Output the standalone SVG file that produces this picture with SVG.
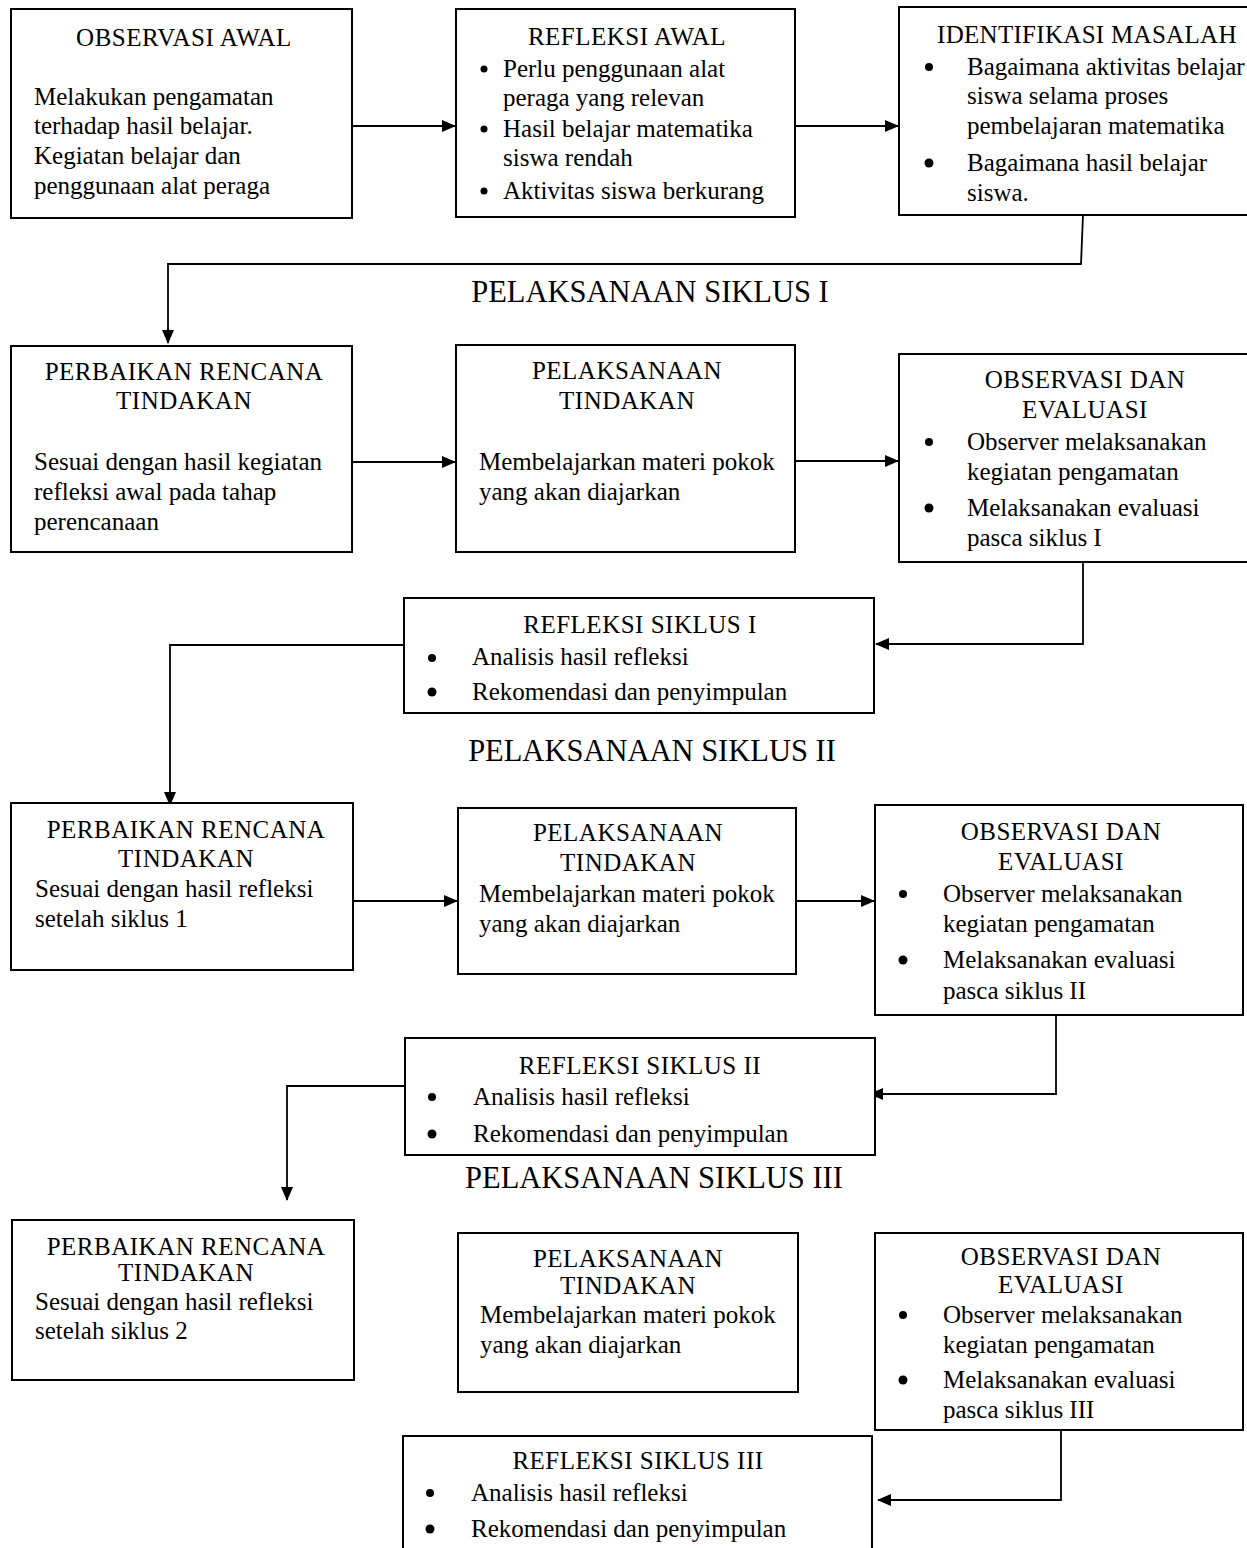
<svg xmlns="http://www.w3.org/2000/svg" width="1247" height="1548" viewBox="0 0 1247 1548">
<style>
.box{fill:#fff;stroke:#000;stroke-width:2}
text{font-family:"Liberation Serif","Times New Roman",serif;font-size:25px;fill:#000}
.c{text-anchor:middle;letter-spacing:0.5px}
.h{font-size:30.5px;letter-spacing:0}
.ln{fill:none;stroke:#000;stroke-width:1.8}
.b{fill:#000}
</style>
<defs>
<marker id="ah" markerUnits="userSpaceOnUse" markerWidth="14" markerHeight="12" refX="13" refY="6" orient="auto">
<path d="M0,0 L14,6 L0,12 Z" fill="#000"/>
</marker>
</defs>
<rect width="1247" height="1548" fill="#fff"/>

<g id="connectors">
<path class="ln" d="M352,126 H455" marker-end="url(#ah)"/>
<path class="ln" d="M795,126 H898" marker-end="url(#ah)"/>
<path class="ln" d="M1083,215 L1081,264 H168 V343" marker-end="url(#ah)"/>
<path class="ln" d="M352,462 H455" marker-end="url(#ah)"/>
<path class="ln" d="M795,461 H898" marker-end="url(#ah)"/>
<path class="ln" d="M1083,562 V644 H876" marker-end="url(#ah)"/>
<path class="ln" d="M404,645 H170 V805" marker-end="url(#ah)"/>
<path class="ln" d="M353,901 H457" marker-end="url(#ah)"/>
<path class="ln" d="M796,901 H874" marker-end="url(#ah)"/>
<path class="ln" d="M1056,1015 V1094 H870" marker-end="url(#ah)"/>
<path class="ln" d="M405,1086 H287 V1200" marker-end="url(#ah)"/>
<path class="ln" d="M1061,1430 V1500 H878" marker-end="url(#ah)"/>
</g>

<g id="observasi-awal">
<rect class="box" x="11" y="9" width="341" height="209"/>
<text class="c" x="184" y="46">OBSERVASI AWAL</text>
<text x="34" y="105">Melakukan pengamatan</text>
<text x="34" y="134">terhadap hasil belajar.</text>
<text x="34" y="164">Kegiatan belajar dan</text>
<text x="34" y="194">penggunaan alat peraga</text>
</g>

<g id="refleksi-awal">
<rect class="box" x="456" y="9" width="339" height="208"/>
<text class="c" x="627" y="45">REFLEKSI AWAL</text>
<circle class="b" cx="484" cy="69" r="3.5"/>
<text x="503" y="77">Perlu penggunaan alat</text>
<text x="503" y="106">peraga yang relevan</text>
<circle class="b" cx="484" cy="129" r="3.5"/>
<text x="503" y="137">Hasil belajar matematika</text>
<text x="503" y="166">siswa rendah</text>
<circle class="b" cx="484" cy="191" r="3.5"/>
<text x="503" y="199">Aktivitas siswa berkurang</text>
</g>

<g id="identifikasi-masalah">
<rect class="box" x="899" y="7" width="360" height="208"/>
<text x="937" y="43" style="letter-spacing:0.3px">IDENTIFIKASI MASALAH</text>
<circle class="b" cx="929" cy="67" r="4"/>
<text x="967" y="75">Bagaimana aktivitas belajar</text>
<text x="967" y="104">siswa selama proses</text>
<text x="967" y="134">pembelajaran matematika</text>
<circle class="b" cx="929" cy="163" r="4.5"/>
<text x="967" y="171">Bagaimana hasil belajar</text>
<text x="967" y="201">siswa.</text>
</g>

<text class="c h" x="650" y="302">PELAKSANAAN SIKLUS I</text>

<g id="perbaikan-1">
<rect class="box" x="11" y="346" width="341" height="206"/>
<text class="c" x="184" y="380">PERBAIKAN RENCANA</text>
<text class="c" x="184" y="409">TINDAKAN</text>
<text x="34" y="470">Sesuai dengan hasil kegiatan</text>
<text x="34" y="500">refleksi awal pada tahap</text>
<text x="34" y="530">perencanaan</text>
</g>

<g id="pelaksanaan-1">
<rect class="box" x="456" y="345" width="339" height="207"/>
<text class="c" x="627" y="379">PELAKSANAAN</text>
<text class="c" x="627" y="409">TINDAKAN</text>
<text x="479" y="470">Membelajarkan materi pokok</text>
<text x="479" y="500">yang akan diajarkan</text>
</g>

<g id="observasi-1">
<rect class="box" x="899" y="354" width="360" height="208"/>
<text class="c" x="1085" y="388">OBSERVASI DAN</text>
<text class="c" x="1085" y="418">EVALUASI</text>
<circle class="b" cx="929" cy="442" r="4"/>
<text x="967" y="450">Observer melaksanakan</text>
<text x="967" y="480">kegiatan pengamatan</text>
<circle class="b" cx="929" cy="508" r="4.5"/>
<text x="967" y="516">Melaksanakan evaluasi</text>
<text x="967" y="546">pasca siklus I</text>
</g>

<g id="refleksi-1">
<rect class="box" x="404" y="598" width="470" height="115"/>
<text class="c" x="640" y="633">REFLEKSI SIKLUS I</text>
<circle class="b" cx="432" cy="658" r="4"/>
<text x="472" y="665">Analisis hasil refleksi</text>
<circle class="b" cx="432" cy="692" r="4.5"/>
<text x="472" y="700">Rekomendasi dan penyimpulan</text>
</g>

<text class="c h" x="652" y="761">PELAKSANAAN SIKLUS II</text>

<g id="perbaikan-2">
<rect class="box" x="11" y="803" width="342" height="167"/>
<text class="c" x="186" y="838">PERBAIKAN RENCANA</text>
<text class="c" x="186" y="867">TINDAKAN</text>
<text x="35" y="897">Sesuai dengan hasil refleksi</text>
<text x="35" y="927">setelah siklus 1</text>
</g>

<g id="pelaksanaan-2">
<rect class="box" x="458" y="808" width="338" height="166"/>
<text class="c" x="628" y="841">PELAKSANAAN</text>
<text class="c" x="628" y="871">TINDAKAN</text>
<text x="479" y="902">Membelajarkan materi pokok</text>
<text x="479" y="932">yang akan diajarkan</text>
</g>

<g id="observasi-2">
<rect class="box" x="875" y="805" width="368" height="210"/>
<text class="c" x="1061" y="840">OBSERVASI DAN</text>
<text class="c" x="1061" y="870">EVALUASI</text>
<circle class="b" cx="903" cy="894" r="4"/>
<text x="943" y="902">Observer melaksanakan</text>
<text x="943" y="932">kegiatan pengamatan</text>
<circle class="b" cx="903" cy="960" r="4.5"/>
<text x="943" y="968">Melaksanakan evaluasi</text>
<text x="943" y="999">pasca siklus II</text>
</g>

<g id="refleksi-2">
<rect class="box" x="405" y="1038" width="470" height="117"/>
<text class="c" x="640" y="1074">REFLEKSI SIKLUS II</text>
<circle class="b" cx="432" cy="1097" r="4"/>
<text x="473" y="1105">Analisis hasil refleksi</text>
<circle class="b" cx="432" cy="1134" r="4.5"/>
<text x="473" y="1142">Rekomendasi dan penyimpulan</text>
</g>

<text class="c h" x="654" y="1188">PELAKSANAAN SIKLUS III</text>

<g id="perbaikan-3">
<rect class="box" x="12" y="1220" width="342" height="160"/>
<text class="c" x="186" y="1255">PERBAIKAN RENCANA</text>
<text class="c" x="186" y="1281">TINDAKAN</text>
<text x="35" y="1310">Sesuai dengan hasil refleksi</text>
<text x="35" y="1339">setelah siklus 2</text>
</g>

<g id="pelaksanaan-3">
<rect class="box" x="458" y="1233" width="340" height="159"/>
<text class="c" x="628" y="1267">PELAKSANAAN</text>
<text class="c" x="628" y="1294">TINDAKAN</text>
<text x="480" y="1323">Membelajarkan materi pokok</text>
<text x="480" y="1353">yang akan diajarkan</text>
</g>

<g id="observasi-3">
<rect class="box" x="875" y="1233" width="368" height="197"/>
<text class="c" x="1061" y="1265">OBSERVASI DAN</text>
<text class="c" x="1061" y="1293">EVALUASI</text>
<circle class="b" cx="903" cy="1315" r="4"/>
<text x="943" y="1323">Observer melaksanakan</text>
<text x="943" y="1353">kegiatan pengamatan</text>
<circle class="b" cx="903" cy="1380" r="4.5"/>
<text x="943" y="1388">Melaksanakan evaluasi</text>
<text x="943" y="1418">pasca siklus III</text>
</g>

<g id="refleksi-3">
<rect class="box" x="403" y="1436" width="469" height="130"/>
<text class="c" x="638" y="1469">REFLEKSI SIKLUS III</text>
<circle class="b" cx="430" cy="1493" r="4"/>
<text x="471" y="1501">Analisis hasil refleksi</text>
<circle class="b" cx="430" cy="1529" r="4.5"/>
<text x="471" y="1537">Rekomendasi dan penyimpulan</text>
</g>
</svg>
